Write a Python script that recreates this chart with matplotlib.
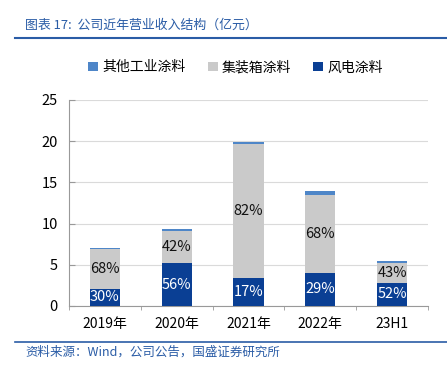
import numpy as np
import matplotlib.pyplot as plt
from matplotlib.lines import Line2D

plt.rcParams['font.family'] = ['Noto Sans CJK SC', 'DejaVu Sans']

# data (亿元)
categories = ["2019年", "2020年", "2021年", "2022年", "23H1"]
wind = [2.10, 5.20, 3.38, 4.03, 2.83]
container = [4.76, 3.90, 16.30, 9.45, 2.34]
other = [0.14, 0.19, 0.20, 0.42, 0.27]
wind_pct = ["30%", "56%", "17%", "29%", "52%"]
container_pct = ["68%", "42%", "82%", "68%", "43%"]

c_wind = "#0A3F94"
c_cont = "#CACACA"
c_other = "#4E86C8"
c_title = "#2A5CA6"

fig = plt.figure(figsize=(4.47, 3.68), dpi=100)
ax = fig.add_axes([0.1544, 0.1685, 0.8031, 0.5598])

x = np.arange(len(categories))
w = 0.42
wind = np.array(wind)
container = np.array(container)
other = np.array(other)

ax.bar(x, wind, w, color=c_wind, label="风电涂料", zorder=3)
ax.bar(x, container, w, bottom=wind, color=c_cont, label="集装箱涂料", zorder=3)
ax.bar(x, other, w, bottom=wind + container, color=c_other, label="其他工业涂料", zorder=3)

for i in range(len(categories)):
    ax.text(x[i], wind[i] / 2, wind_pct[i], ha="center", va="center",
            color="white", fontsize=10.5, zorder=4)
    ax.text(x[i], wind[i] + container[i] / 2, container_pct[i], ha="center",
            va="center", color="#111111", fontsize=10.5, zorder=4)

ax.set_xlim(-0.5, len(categories) - 0.5)
ax.set_ylim(0, 25)
ax.set_yticks([0, 5, 10, 15, 20, 25])
ax.yaxis.grid(True, color="#DADADA", linewidth=0.8, zorder=0)
ax.set_xticks(x)
ax.set_xticklabels(categories, fontsize=10)
ax.tick_params(axis="x", length=0, pad=8)
ax.set_xticks(np.arange(len(categories) + 1) - 0.5, minor=True)
ax.tick_params(axis="x", which="minor", length=3, color="#999999", direction="out")
ax.tick_params(axis="y", labelsize=10.5, length=4, direction="in", color="#999999", pad=8)
for s in ["top", "right"]:
    ax.spines[s].set_visible(False)
for s in ["left", "bottom"]:
    ax.spines[s].set_color("#999999")
    ax.spines[s].set_linewidth(0.8)

# legend
handles, labels = ax.get_legend_handles_labels()
order = [2, 1, 0]
fig.legend([handles[i] for i in order], [labels[i] for i in order],
           loc="center", bbox_to_anchor=(0.527, 0.817), ncol=3, frameon=False,
           fontsize=10, handlelength=0.7, handleheight=0.7, handletextpad=0.3,
           columnspacing=1.6)

# title and source
fig.text(0.056, 0.932, "图表 17:  公司近年营业收入结构（亿元）", color=c_title,
         fontsize=9.3, style="italic", va="center")
fig.add_artist(Line2D([0.034, 1.0], [0.897, 0.897], color=c_title, linewidth=1.5))
fig.add_artist(Line2D([0.034, 1.0], [0.072, 0.072], color=c_title, linewidth=1.2))
fig.text(0.056, 0.043, "资料来源：Wind，公司公告，国盛证券研究所", color=c_title,
         fontsize=9, style="italic", va="center")

fig.savefig("out.png", dpi=100)
